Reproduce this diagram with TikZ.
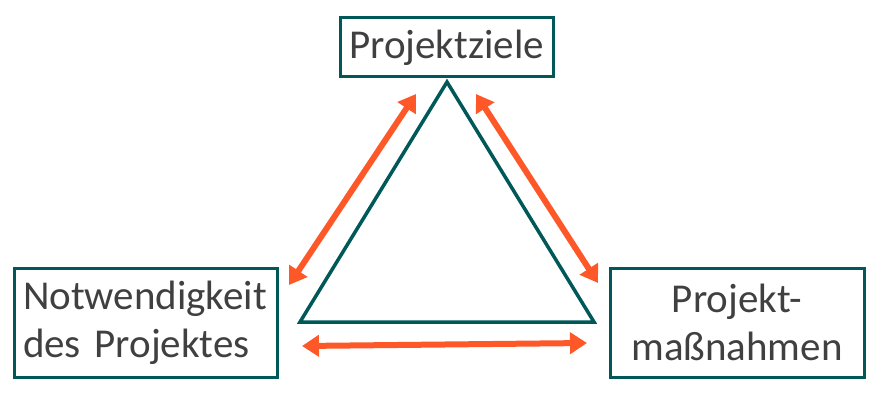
\documentclass[tikz,border=0pt]{standalone}
\usepackage{fontspec}
\setmainfont{Carlito}
\usetikzlibrary{arrows.meta}
\definecolor{teal1}{RGB}{0,88,88}
\definecolor{orng}{RGB}{255,88,40}
\definecolor{txt}{RGB}{64,64,64}
\tikzset{
  box/.style={draw=teal1, line width=3pt, fill=white, text=txt, font=\fontsize{41}{48}\selectfont, inner ysep=0pt},
  dbl/.style={draw=orng, line width=6pt, {Triangle[length=17pt,width=21pt]}-{Triangle[length=17pt,width=21pt]}}
}
\begin{document}
\begin{tikzpicture}[x=1pt,y=-1pt]
\useasboundingbox (0,0) rectangle (877,401);
\node[box, minimum width=213pt, minimum height=59pt, inner xsep=2pt] (ziel) at (446.5,47.5) {Projektziele};
\node[box, minimum width=263pt, minimum height=109pt, inner xsep=9pt, text width=245pt, align=left] (notw) at (145.5,322.5) {Notwendigkeit\\des Projektes};
\node[box, minimum width=254pt, minimum height=109pt, inner xsep=9pt, text width=236pt, align=center] (mass) at (737,322.5) {Projekt-\\maßnahmen};
\coordinate (A) at (447,82);
\coordinate (B) at (300,322);
\coordinate (C) at (594,322);
\draw[teal1, line width=3.5pt, line join=miter] (A) -- (B) -- (C) -- cycle;
\coordinate (l1) at (416,94); \coordinate (l2) at (289,285);
\coordinate (r1) at (476,94); \coordinate (r2) at (598,283);
\coordinate (b1) at (302,346); \coordinate (b2) at (587,343);
\draw[dbl] (l1) -- (l2);
\draw[dbl] (r1) -- (r2);
\draw[dbl] (b1) -- (b2);
\end{tikzpicture}
\end{document}
